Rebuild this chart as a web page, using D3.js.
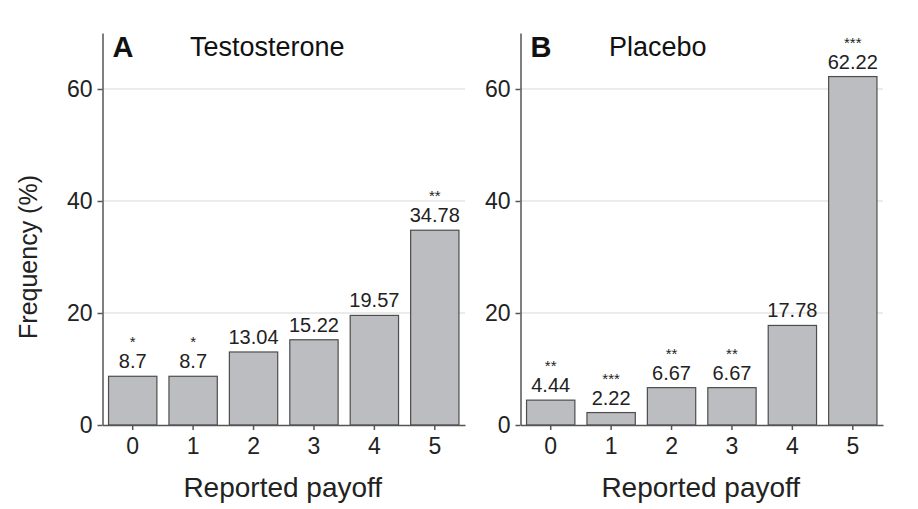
<!DOCTYPE html>
<html><head><meta charset="utf-8">
<script src="https://cdn.jsdelivr.net/npm/d3@7"></script>
<style>body{margin:0;background:#fff}svg{display:block;font-family:"Liberation Sans",Arial,sans-serif}</style>
</head><body><svg id="c" width="918" height="509"></svg>
<script>
const categories = ["0","1","2","3","4","5"];
const testosteroneValues = [8.7, 8.7, 13.04, 15.22, 19.57, 34.78];
const testosteroneStars = ["*","*","","","","**"];
const placeboValues = [4.44, 2.22, 6.67, 6.67, 17.78, 62.22];
const placeboStars = ["**","***","**","**","","***"];
const yTicks = [0, 20, 40, 60];
const labelFmt = d3.format("");

const svg = d3.select("#c");
const panels = [
  {letter:"A", title:"Testosterone", values:testosteroneValues, stars:testosteroneStars, x0:102.5, x1:465, titleX:190},
  {letter:"B", title:"Placebo", values:placeboValues, stars:placeboStars, x0:520.5, x1:883, titleX:609}
];
const yTop = 33, yBot = 425;
const axisCol = "#555";
const ff = "Liberation Sans, Arial, sans-serif";

panels.forEach(p => {
  const g = svg.append("g");
  const x = d3.scaleBand().domain(categories).range([p.x0, p.x1]).paddingInner(0.2).paddingOuter(0.1);
  const y = d3.scaleLinear().domain([0, 70]).range([yBot, yTop]);

  g.selectAll("line.grid").data(yTicks.filter(t => t > 0)).join("line")
    .attr("x1", p.x0).attr("x2", p.x1)
    .attr("y1", d => y(d)).attr("y2", d => y(d))
    .attr("stroke", "#e4e4e4").attr("stroke-width", 1.5);

  g.selectAll("rect").data(p.values).join("rect")
    .attr("x", (d,i) => x(categories[i]))
    .attr("width", x.bandwidth())
    .attr("y", d => y(d))
    .attr("height", d => y(0) - y(d))
    .attr("fill", "#bcbdc0").attr("stroke", "#4d4d4d").attr("stroke-width", 1.2);

  g.selectAll("text.val").data(p.values).join("text")
    .attr("x", (d,i) => x(categories[i]) + x.bandwidth()/2)
    .attr("y", d => y(d) - 8)
    .attr("text-anchor", "middle").attr("font-size", 20).attr("fill", "#222")
    .text(d => labelFmt(d));

  g.selectAll("text.star").data(p.stars).join("text")
    .attr("x", (d,i) => x(categories[i]) + x.bandwidth()/2)
    .attr("y", (d,i) => y(p.values[i]) - 29)
    .attr("text-anchor", "middle").attr("font-size", 15).attr("fill", "#222")
    .text(d => d);

  const ya = g.append("g").attr("transform", `translate(${p.x0},0)`)
    .call(d3.axisLeft(y).tickValues(yTicks).tickSize(5).tickPadding(5).tickSizeOuter(0));
  ya.select(".domain").attr("stroke", axisCol).attr("stroke-width", 1.5);
  ya.selectAll(".tick line").attr("stroke", axisCol).attr("stroke-width", 1.5);
  ya.selectAll(".tick text").attr("font-size", 23).attr("fill", "#222").attr("font-family", ff);

  const xa = g.append("g").attr("transform", `translate(0,${yBot})`)
    .call(d3.axisBottom(x).tickSize(5).tickPadding(8).tickSizeOuter(0));
  xa.select(".domain").attr("stroke", axisCol).attr("stroke-width", 1.5);
  xa.selectAll(".tick line").attr("stroke", axisCol).attr("stroke-width", 1.5);
  xa.selectAll(".tick text").attr("font-size", 23).attr("fill", "#222").attr("font-family", ff);

  g.append("text").attr("x", (p.x0 + p.x1)/2 - 1).attr("y", 497)
    .attr("text-anchor", "middle").attr("font-size", 28).attr("fill", "#222").text("Reported payoff");

  g.append("text").attr("x", p.x0 + 10).attr("y", 57)
    .attr("font-size", 29).attr("font-weight", "bold").attr("fill", "#111").text(p.letter);
  g.append("text").attr("x", p.titleX).attr("y", 56)
    .attr("font-size", 27).attr("fill", "#111").text(p.title);
});

svg.append("text").attr("transform", "translate(37,257) rotate(-90)")
  .attr("text-anchor", "middle").attr("font-size", 25).attr("fill", "#222").text("Frequency (%)");
</script></body></html>
